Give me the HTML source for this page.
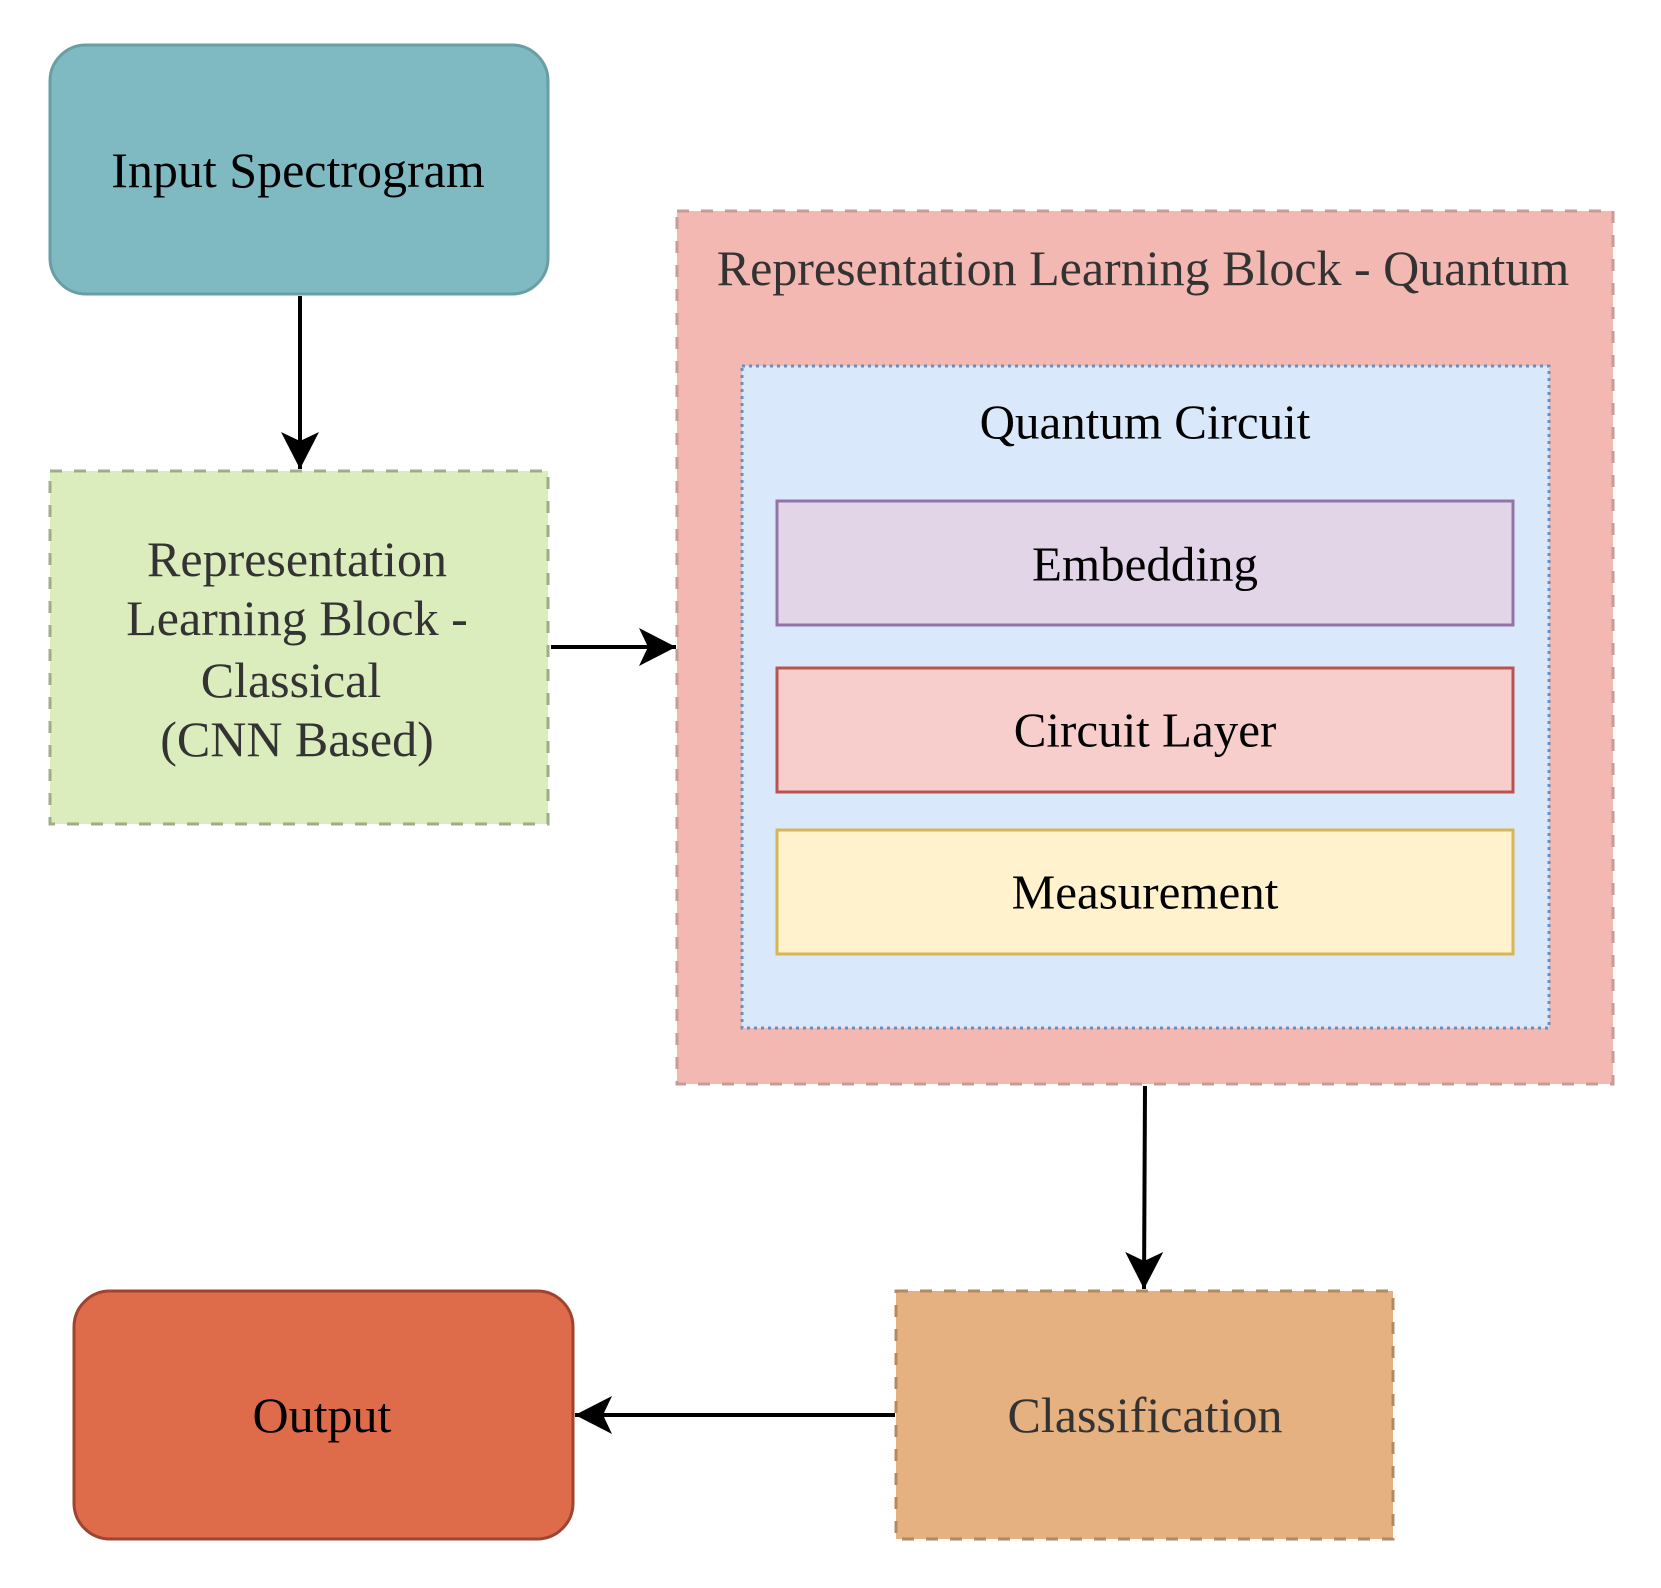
<!DOCTYPE html>
<html><head><meta charset="utf-8"><style>
html,body{margin:0;padding:0;background:#fff;}
svg{display:block;}
text{font-family:"Liberation Serif",serif;text-anchor:middle;dominant-baseline:central;}
</style></head><body>
<svg width="1661" height="1588" viewBox="0 0 1661 1588" xmlns="http://www.w3.org/2000/svg">
<defs>
<marker id="ah" markerWidth="40" markerHeight="40" refX="37" refY="19" orient="auto" markerUnits="userSpaceOnUse">
<path d="M0,0 L37,19 L0,38 L9,19 Z" fill="#000"/>
</marker>
</defs>
<rect x="50" y="45" width="498" height="249" rx="36" fill="#7fb9c1" stroke="#6a9ea5" stroke-width="3"/>
<text x="298" y="170" font-size="50" fill="#000">Input Spectrogram</text>
<rect x="50" y="471" width="498" height="353" fill="#dbecbd" stroke="#9fae87" stroke-width="3" stroke-dasharray="12 12"/>
<g font-size="50" fill="#333">
<text x="297" y="559">Representation</text>
<text x="297" y="618">Learning Block -</text>
<text x="291" y="680">Classical</text>
<text x="297" y="739">(CNN Based)</text>
</g>
<rect x="677" y="211" width="936" height="873" fill="#f4b8b2" stroke="#c99a96" stroke-width="3" stroke-dasharray="12 12"/>
<text x="1143" y="268" font-size="50" fill="#333">Representation Learning Block - Quantum</text>
<rect x="742" y="366" width="807" height="662" fill="#dae8fc" stroke="#6c8ebf" stroke-width="3" stroke-dasharray="3 4"/>
<text x="1145" y="422" font-size="49" fill="#000">Quantum Circuit</text>
<rect x="777" y="501" width="736" height="124" fill="#e1d5e7" stroke="#9673a6" stroke-width="3"/>
<text x="1145" y="564" font-size="49" fill="#000">Embedding</text>
<rect x="777" y="668" width="736" height="124" fill="#f8cecc" stroke="#b85450" stroke-width="3"/>
<text x="1145" y="730" font-size="49" fill="#000">Circuit Layer</text>
<rect x="777" y="830" width="736" height="124" fill="#fff2cc" stroke="#d6b656" stroke-width="3"/>
<text x="1145" y="892" font-size="49" fill="#000">Measurement</text>
<rect x="896" y="1291" width="497" height="248" fill="#e5b180" stroke="#b28961" stroke-width="3" stroke-dasharray="12 12"/>
<text x="1145" y="1415" font-size="50" fill="#333">Classification</text>
<rect x="74" y="1291" width="499" height="248" rx="36" fill="#de6b4a" stroke="#a0432f" stroke-width="3"/>
<text x="322" y="1415" font-size="50" fill="#000">Output</text>
<g stroke="#000" stroke-width="4" fill="none">
<line x1="300" y1="296" x2="300" y2="469" marker-end="url(#ah)"/>
<line x1="551" y1="647" x2="676" y2="647" marker-end="url(#ah)"/>
<line x1="1145" y1="1086" x2="1144" y2="1289" marker-end="url(#ah)"/>
<line x1="895" y1="1415" x2="575" y2="1415" marker-end="url(#ah)"/>
</g>
</svg>
</body></html>
